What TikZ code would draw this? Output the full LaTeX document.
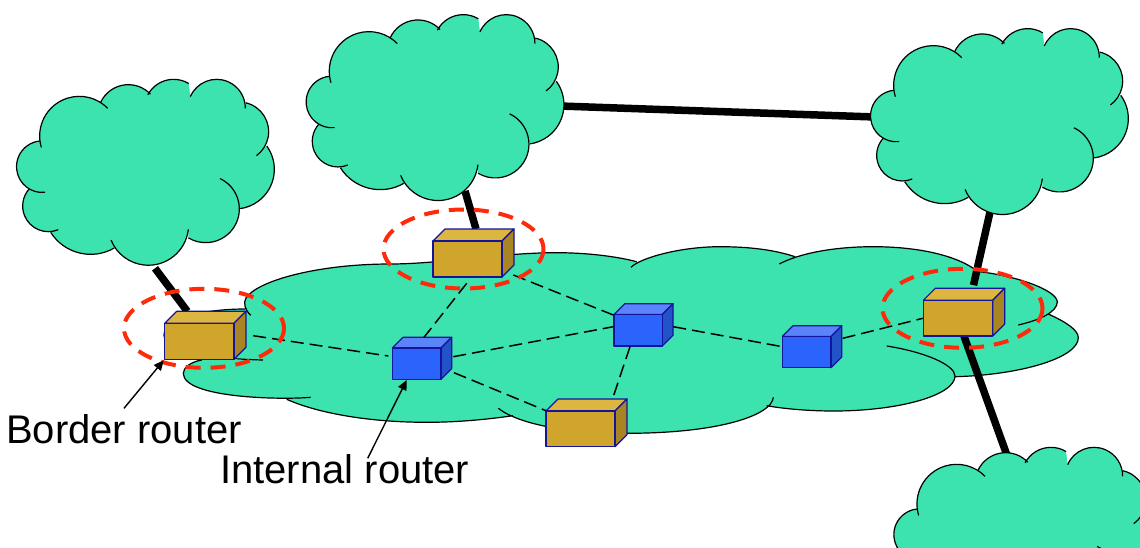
\documentclass[tikz,border=0pt]{standalone}
\usepackage{fontspec}
\setmainfont{Liberation Sans}
\usetikzlibrary{calc,arrows.meta}
\definecolor{cloudc}{HTML}{3CE3AE}
\definecolor{redc}{HTML}{FF2A0A}
\definecolor{edgec}{HTML}{14149A}
\definecolor{goldfront}{HTML}{D0A52B}
\definecolor{goldtop}{HTML}{DCB641}
\definecolor{goldside}{HTML}{A88522}
\definecolor{bluefront}{HTML}{2B64FA}
\definecolor{bluetop}{HTML}{5B84FB}
\definecolor{blueside}{HTML}{2253C8}
\tikzset{
  cloudfill/.style={fill=cloudc},
  cloudline/.style={draw=black,line width=1.2pt},
  backbone/.style={draw=black,line width=7.5pt},
  wirelink/.style={draw=black,line width=1.5pt,dash pattern=on 13pt off 6pt},
  ring/.style={draw=redc,line width=4pt,dash pattern=on 15pt off 10pt},
  bound/.style={inner sep=0pt,outer sep=0pt},
  face/.style={draw=edgec,line width=1.2pt,line join=round},
  pointer/.style={draw=black,line width=1.4pt,-{Triangle[length=10pt,width=9pt]}},
  caption/.style={font=\fontsize{40}{44}\selectfont,anchor=base west,inner sep=0pt}
}
\def\lobelist{238/198/119/163.3/315.7, 385/135.5/91.5/204.9/316.5, 521/116/88/208/301, 650/114/86/203.3/360.7, 717/185/89/283/414, 704/298/119/-36/82, 617/417/101/-65/120.7, 445/465/120.7/6.2/158, 272/411/142/60/147.6, 145/408/77/67.4/221.8, 127/290/77.4/84/264.8}
\newcommand\cloudshape[2]{%
  \begin{scope}[shift={(#1,#2)},scale=1/3]
    \fill[cloudfill] (125,232) \foreach \cx/\cy/\rr/\sa/\ea in \lobelist {
      -- ({\cx+\rr*cos(\sa)},{\cy+\rr*sin(\sa)}) arc[start angle=\sa,end angle=\ea,radius=\rr]
    } -- cycle;
    \foreach \cx/\cy/\rr/\sa/\ea in \lobelist {
      \draw[cloudline] ({\cx+\rr*cos(\sa)},{\cy+\rr*sin(\sa)}) arc[start angle=\sa,end angle=\ea,radius=\rr];
    }
  \end{scope}}
% name, left, top, right, bottom, depth, colour prefix
\newcommand\routerbox[7]{%
  \pgfmathsetmacro\bw{#4-#2}\pgfmathsetmacro\bh{#5-#3}
  \node[bound,minimum width=\bw pt,minimum height=\bh pt] (#1) at ({(#2+#4)/2},{(#3+#5)/2}) {};
  \filldraw[face,fill=#7top] ($(#1.north west)+(0,#6)$) -- ($(#1.north west)+(#6,0)$) -- (#1.north east) -- ($(#1.north east)+(-#6,#6)$) -- cycle;
  \filldraw[face,fill=#7side] ($(#1.north east)+(-#6,#6)$) -- (#1.north east) -- ($(#1.south east)+(0,-#6)$) -- ($(#1.south east)+(-#6,0)$) -- cycle;
  \filldraw[face,fill=#7front] ($(#1.north west)+(0,#6)$) rectangle ($(#1.south east)+(-#6,0)$);}
\newcommand\wire[6]{\draw[wirelink] ($(#1.center)+(#2,#3)$) -- ($(#4.center)+(#5,#6)$);}
\begin{document}
\begin{tikzpicture}[x=1pt,y=1pt,yscale=-1]
\useasboundingbox (0,0) rectangle (1140,547);
\clip (0,0) rectangle (1140,547);
% ground network
\fill[cloudfill] (250.7,315.3) .. controls (245,310) and (243,303) .. (246,298) .. controls (258,280) and (320,264) .. (390,264) .. controls (440,264) and (500,252.7) .. (556.7,252.7) .. controls (585,252.7) and (615,256) .. (636.7,261.7)
 -- (631,267.3) .. controls (640,258) and (680,246.7) .. (720,246.7) .. controls (750,246.7) and (775,250) .. (795,256.7)
 -- (779.3,264) .. controls (800,253) and (835,246.7) .. (873.3,246.7) .. controls (920,246.7) and (955,256) .. (973.3,268.3)
 -- (973.3,271) .. controls (1015,275) and (1057,290) .. (1057.3,302) .. controls (1057,312) and (1040,320) .. (1018.3,325)
 -- (1048.3,314) .. controls (1066,322) and (1078.3,330) .. (1078.3,337.7) .. controls (1078.3,358) and (1020,375) .. (955,376.7)
 -- (886.7,346) .. controls (925,352) and (955,365) .. (955,376) .. controls (955,395) and (900,411) .. (833.3,411) .. controls (810,411) and (785,409) .. (766.7,405.7)
 -- (773.3,397.3) .. controls (772,415) and (720,433.3) .. (626.7,433.3) .. controls (570,433.3) and (520,425) .. (498.3,408.3)
 -- (513,415.7) .. controls (490,419) and (460,422.3) .. (426.7,422.3) .. controls (365,422.3) and (315,412) .. (286.7,399.3)
 -- (310.7,397.3) .. controls (280,400) and (183.3,398) .. (183.3,373.3) .. controls (183.3,368) and (190,362) .. (201.7,360)
 -- (263,360) .. controls (225,359) and (164,355) .. (164,335) .. controls (164,320) and (200,309) .. (245,309) -- cycle;
\draw[cloudline] (250.7,315.3) .. controls (245,310) and (243,303) .. (246,298) .. controls (258,280) and (320,264) .. (390,264) .. controls (440,264) and (500,252.7) .. (556.7,252.7) .. controls (585,252.7) and (615,256) .. (636.7,261.7)
 (631,267.3) .. controls (640,258) and (680,246.7) .. (720,246.7) .. controls (750,246.7) and (775,250) .. (795,256.7)
 (779.3,264) .. controls (800,253) and (835,246.7) .. (873.3,246.7) .. controls (920,246.7) and (955,256) .. (973.3,268.3)
 (973.3,271) .. controls (1015,275) and (1057,290) .. (1057.3,302) .. controls (1057,312) and (1040,320) .. (1018.3,325)
 (1048.3,314) .. controls (1066,322) and (1078.3,330) .. (1078.3,337.7) .. controls (1078.3,358) and (1020,375) .. (955,376.7)
 (886.7,346) .. controls (925,352) and (955,365) .. (955,376) .. controls (955,395) and (900,411) .. (833.3,411) .. controls (810,411) and (785,409) .. (766.7,405.7)
 (773.3,397.3) .. controls (772,415) and (720,433.3) .. (626.7,433.3) .. controls (570,433.3) and (520,425) .. (498.3,408.3)
 (513,415.7) .. controls (490,419) and (460,422.3) .. (426.7,422.3) .. controls (365,422.3) and (315,412) .. (286.7,399.3)
 (310.7,397.3) .. controls (280,400) and (183.3,398) .. (183.3,373.3) .. controls (183.3,368) and (190,362) .. (201.7,360)
 (263,360) .. controls (225,359) and (164,355) .. (164,335) .. controls (164,320) and (200,309) .. (245,309);
% backbone ends on the clouds
\coordinate (c1s) at (155,268.3);
\coordinate (c2s) at (465,191);
\coordinate (c2e) at (560,106);
\coordinate (c3w) at (875,117);
\coordinate (c3s) at (990,212);
\coordinate (c4n) at (1006.5,454);
% routers (positions first, used by the links)
\routerbox{b3}{546}{399}{627}{446.7}{12}{gold}
\routerbox{i1}{392.3}{337.3}{451.7}{379.3}{10.7}{blue}
\routerbox{i2}{614}{303.7}{673}{346}{10.7}{blue}
\routerbox{i3}{782.3}{325.7}{841.7}{367.7}{10.7}{blue}
\node[bound,minimum width=81.3pt,minimum height=48pt] (b1) at (205.35,335.3) {};
\node[bound,minimum width=81pt,minimum height=48pt] (b2) at (473.5,253) {};
\node[bound,minimum width=81.4pt,minimum height=47.7pt] (b4) at (964,312.15) {};
% internal links
\wire{b1}{47.9}{0.4}{i1}{-33.7}{-2.3}
\wire{b2}{-6.8}{30.3}{i1}{2}{-21}
\wire{i1}{31.3}{-1.6}{i2}{-30.2}{1.85}
\wire{i1}{32}{14.4}{b3}{-40.5}{-12.15}
\wire{b2}{39.8}{22}{i2}{-30.2}{-9.85}
\wire{i2}{-13.5}{21.85}{b3}{26.2}{-24.55}
\wire{i2}{29.8}{1.85}{i3}{-29.7}{0}
\wire{i3}{30.7}{-8.4}{b4}{-41.3}{6.15}
\draw[backbone] (c2e) -- (c3w);
\draw[backbone] (c1s) -- ($(b1.center)+(-18,-24)$);
\draw[backbone] (c2s) -- ($(b2.center)+(2.5,-24)$);
\draw[backbone] (c3s) -- ($(b4.center)+(9.5,-27)$);
\draw[backbone] ($(b4.center)+(0,24)$) -- (c4n);
% clouds
\cloudshape{0}{70}
\cloudshape{289.6}{5.3}
\cloudshape{854}{19.3}
\cloudshape{877.3}{438}
% border routers above the backbone
\routerbox{b1}{164.7}{311.3}{246}{359.3}{12}{gold}
\routerbox{b2}{433}{229}{514}{277}{12}{gold}
\routerbox{b4}{923.3}{288.3}{1004.7}{336}{12}{gold}
% dashed rings
\draw[ring] (204,328.3) ellipse [x radius=80,y radius=39.5];
\draw[ring] (463.5,249) ellipse [x radius=80,y radius=39.5];
\draw[ring] (962.5,308.3) ellipse [x radius=80,y radius=39.5];
% labels and pointers
\node[caption] (lb) at (6,443) {Border router};
\node[caption] (li) at (220,483) {Internal router};
\coordinate (pb) at (124,408.3);
\coordinate (pi) at (367.7,458.3);
\draw[pointer] (pb) -- ($(b1.south west)+(-1,1)$);
\draw[pointer] (pi) -- ($(i1.center)+(-15.3,21.7)$);
\end{tikzpicture}
\end{document}
